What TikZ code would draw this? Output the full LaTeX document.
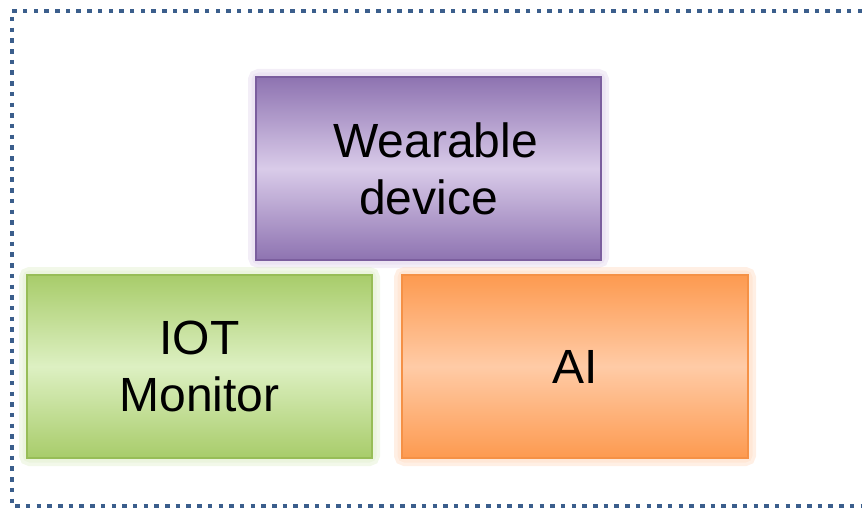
\documentclass[tikz,border=0pt]{standalone}
\usepackage{fontspec}
\setmainfont{Liberation Sans}
\definecolor{dotblue}{HTML}{3B5E8C}
\definecolor{purDark}{HTML}{8E73B1}
\definecolor{purLight}{HTML}{D9CBE9}
\definecolor{purEdge}{HTML}{7B5E9E}
\definecolor{purGlow}{HTML}{E4D9EE}
\definecolor{grnDark}{HTML}{A8CC6A}
\definecolor{grnLight}{HTML}{DDF0C2}
\definecolor{grnEdge}{HTML}{97BD57}
\definecolor{grnGlow}{HTML}{E2EFCF}
\definecolor{orgDark}{HTML}{FD9A50}
\definecolor{orgLight}{HTML}{FFCBA6}
\definecolor{orgEdge}{HTML}{F59146}
\definecolor{orgGlow}{HTML}{FFDCC4}
\tikzset{
  box/.style={rectangle, minimum width=345pt, minimum height=183pt, inner sep=0pt,
    line width=1.6pt, align=center, font=\fontsize{48}{57}\selectfont, text=black},
  glow/.style={line width=#1, opacity=0.45, rounded corners=3pt},
}
\begin{document}
\begin{tikzpicture}[x=1pt,y=-1pt]
\useasboundingbox (0,0) rectangle (862,508);
% dotted frame (open on the right)
\draw[dotblue, line width=4.5pt, dash pattern=on 4.5pt off 6.2pt]
  (862,11) -- (12,11) -- (12,506) -- (862,506);
% glows
\foreach \w/\c in {16pt/purGlow,9pt/purGlow}{\draw[\c,glow=\w] (256,77) rectangle (601,260);}
\foreach \w/\c in {16pt/grnGlow,9pt/grnGlow}{\draw[\c,glow=\w] (27,275) rectangle (372,458);}
\foreach \w/\c in {16pt/orgGlow,9pt/orgGlow}{\draw[\c,glow=\w] (402,275) rectangle (748,458);}
% boxes
\node[box, draw=purEdge, top color=purDark, bottom color=purDark, middle color=purLight]
  (wd) at (428.5,168.5) {\hspace*{14pt}Wearable\\device};
\node[box, draw=grnEdge, top color=grnDark, bottom color=grnDark, middle color=grnLight]
  (iot) at (199.5,366.5) {IOT\\Monitor};
\node[box, minimum width=346pt, draw=orgEdge, top color=orgDark, bottom color=orgDark, middle color=orgLight]
  (ai) at (575,366.5) {AI};
\end{tikzpicture}
\end{document}
